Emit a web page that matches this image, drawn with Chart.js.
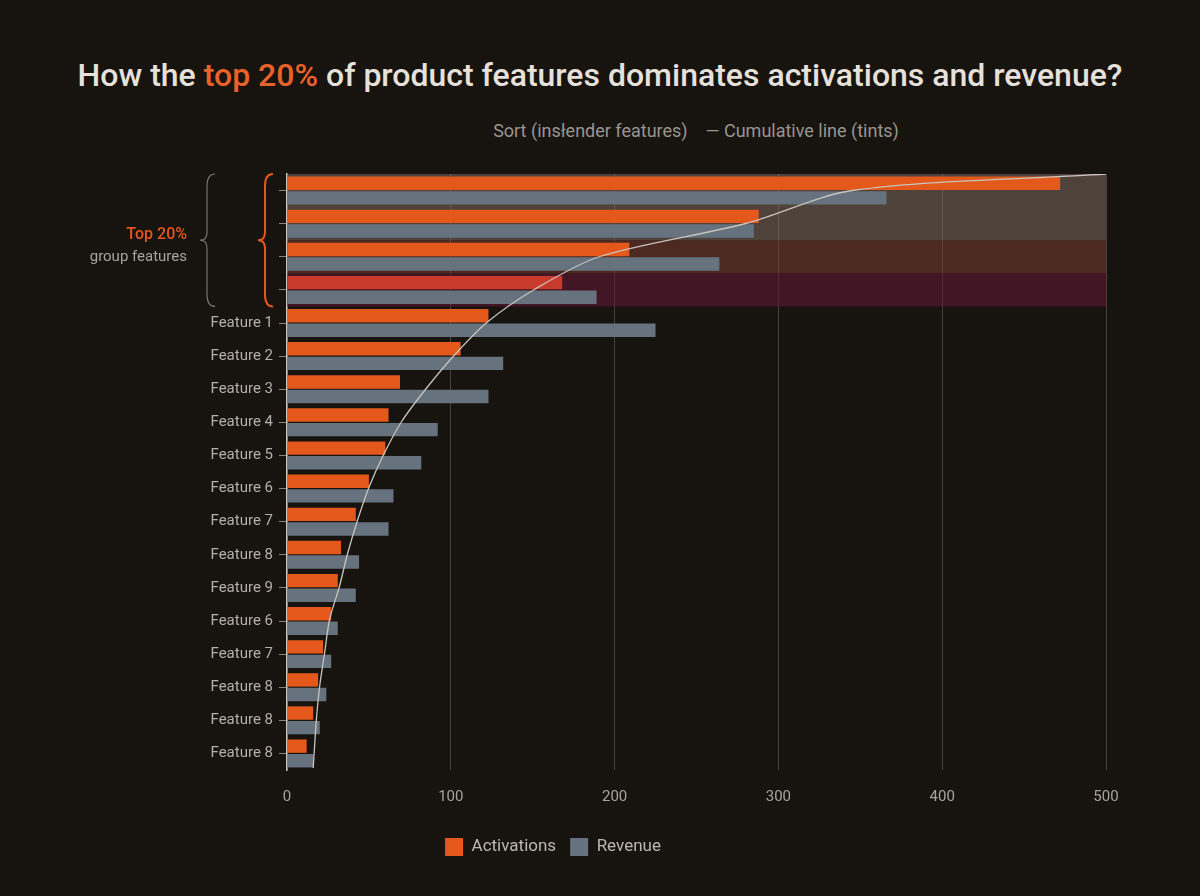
<!DOCTYPE html>
<html><head><meta charset="utf-8">
<script src="https://cdn.jsdelivr.net/npm/chart.js@4"></script>
<style>
html,body{margin:0;padding:0;background:#17130f;width:1200px;height:896px;overflow:hidden;font-family:Roboto,"Noto Sans",sans-serif}
#t{position:absolute;left:0;width:1200px;top:56px;text-align:center;color:#e6e1da;font-size:32px;font-weight:500}
#t span{color:#e8622a}
#s{position:absolute;left:0;width:1200px;top:120px;text-align:center;color:#9a958f;font-size:18px;padding-left:192px;box-sizing:border-box}
canvas{position:absolute;left:0;top:0}
</style></head><body>
<div id="t">How the <span>top 20%</span> of product features dominates activations and revenue?</div>
<div id="s">Sort (insłender features) &nbsp;&nbsp;&nbsp;— Cumulative line (tints)</div>
<canvas id="c" width="1200" height="896"></canvas>
<canvas id="l" width="1200" height="896"></canvas>
<script>
const categories=['','','','','Feature 1','Feature 2','Feature 3','Feature 4','Feature 5','Feature 6','Feature 7','Feature 8','Feature 9','Feature 6','Feature 7','Feature 8','Feature 8','Feature 8'];
const activations=[472,288,209,168,123,106,69,62,60,50,42,33,31,27,22,19,16,12];
const revenue=[366,285,264,189,225,132,123,92,82,65,62,44,42,31,27,24,20,16];
const cumulative=[500,345,280,191,151,122,102,85,70,59,50,43,37,32,26,23,20,18,16];
const xTicks=[0,100,200,300,400,500];
const N=categories.length;
const cumPts=[{x:cumulative[0],y:0}];
for(let i=1;i<cumulative.length-1;i++){cumPts.push({x:cumulative[i],y:i-0.5});}
cumPts.push({x:cumulative[cumulative.length-1],y:N});
const ORANGE='#e4581c',GREY='#67727f';
const actColors=activations.map((v,i)=>i===3?'#c83a2c':ORANGE);
const deco={id:'deco',beforeDatasetsDraw(ch){
 const c=ch.ctx,a=ch.chartArea;
 const h=(a.bottom-a.top)/N;
 const band=(r0,r1,col)=>{c.fillStyle=col;c.fillRect(a.left,a.top+r0*h,a.right-a.left,(r1-r0)*h);};
 band(0,2,'rgba(125,105,95,0.55)');band(2,3,'rgba(120,60,50,0.55)');band(3,4,'rgba(95,25,50,0.6)');
},afterDraw(ch){
 const c=ch.ctx,a=ch.chartArea,h=(a.bottom-a.top)/N;
 const t=a.top,b=a.top+4*h,m=(t+b)/2;
 const br=(x,col,w)=>{c.save();c.strokeStyle=col;c.lineWidth=w;c.beginPath();
  c.moveTo(x+8,t);c.quadraticCurveTo(x,t,x,t+12);c.lineTo(x,m-8);c.quadraticCurveTo(x,m,x-7,m);
  c.quadraticCurveTo(x,m,x,m+8);c.lineTo(x,b-12);c.quadraticCurveTo(x,b,x+8,b);c.stroke();c.restore();};
 br(207,'#77716b',1.2);br(265,ORANGE,2);
 c.save();c.textAlign='right';c.font='500 16px Roboto';c.fillStyle=ORANGE;c.fillText('Top 20%',187,235);
 c.font='15px Roboto';c.fillStyle='#a9a39c';c.fillText('group features',187,257);c.restore();
}};
new Chart(document.getElementById('c'),{
 type:'bar',
 data:{labels:categories,datasets:[
  {label:'Activations',data:activations,backgroundColor:actColors,borderWidth:0,barPercentage:0.92,categoryPercentage:0.88},
  {label:'Revenue',data:revenue,backgroundColor:GREY,borderWidth:0,barPercentage:0.92,categoryPercentage:0.88}
 ]},
 options:{indexAxis:'y',responsive:false,animation:false,
  layout:{padding:{left:0,right:94,top:174,bottom:30}},
  plugins:{legend:{position:'bottom',labels:{color:'#bdb7b0',font:{family:'Roboto',size:17},boxWidth:18,boxHeight:18,padding:14}},tooltip:{enabled:false}},
  scales:{
   x:{type:'linear',min:0,max:500,afterBuildTicks:s=>{s.ticks=xTicks.map(v=>({value:v}));},
      grid:{color:'rgba(130,125,120,0.45)',drawTicks:false},border:{display:false},
      ticks:{color:'#a9a39c',font:{family:'Roboto',size:15},padding:18}},
   y:{type:'category',grid:{display:true,offset:false,drawOnChartArea:false,drawTicks:true,tickLength:8,color:'#8a857f'},border:{color:'#c9c4bd',width:1.5},
      ticks:{color:'#b5afa8',font:{family:'Roboto',size:15},padding:6},afterFit:s=>{s.width=287;}}
  }},
 plugins:[deco]
});
new Chart(document.getElementById('l'),{
 type:'scatter',
 data:{datasets:[{label:'Cumulative',data:cumPts,showLine:true,borderColor:'#c9c4bd',borderWidth:1.3,pointRadius:0,tension:0.3}]},
 options:{responsive:false,animation:false,layout:{padding:{left:287,right:94,top:174,bottom:128}},
  plugins:{legend:{display:false},tooltip:{enabled:false}},
  scales:{x:{type:'linear',min:0,max:500,display:false},y:{type:'linear',min:0,max:N,reverse:true,display:false}}}
});
</script></body></html>
